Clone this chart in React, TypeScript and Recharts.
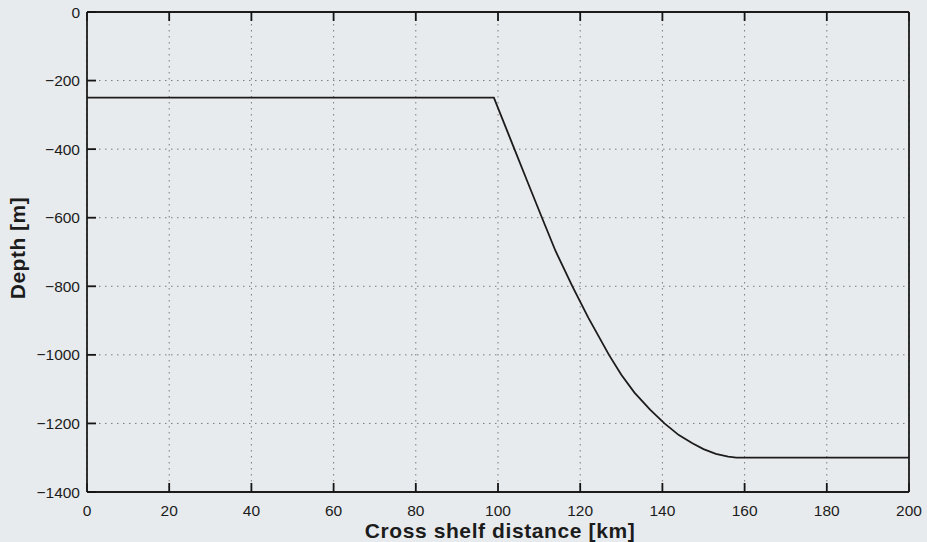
import React from "react";
import {
  LineChart,
  Line,
  XAxis,
  YAxis,
  CartesianGrid,
} from "recharts";

// Cross-shelf bathymetry profile
const distanceKm = [
  0, 99, 100.5, 104, 107, 110.7, 114, 118.1, 122, 127, 130, 133.2, 137, 140.5,
  144, 147.3, 150, 153, 156, 158, 160, 200,
];
const depthM = [
  -250, -250, -295, -400, -490, -600, -697, -800, -892, -1000, -1058, -1110,
  -1160, -1200, -1234, -1258, -1275, -1289, -1297, -1300, -1300, -1300,
];

const xTicks = [0, 20, 40, 60, 80, 100, 120, 140, 160, 180, 200];
const yTicks = [-1400, -1200, -1000, -800, -600, -400, -200, 0];

const data = distanceKm.map((d, i) => ({ dist: d, depth: depthM[i] }));

const FONT = '"Liberation Sans", Arial, Helvetica, sans-serif';
const INK = "#1c1c1c";

const fmt = (v: number) => (v < 0 ? `\u2212${Math.abs(v)}` : `${v}`);

// labels only; tick marks come from tickLine with a negative tickSize (inward, MATLAB style)
const LeftLabel = (props: any) => {
  const { x, y, payload } = props;
  return (
    <text x={x} y={y} textAnchor="end" dominantBaseline="central" fill={INK} fontSize={15.5} fontFamily={FONT}>
      {fmt(payload.value)}
    </text>
  );
};

const BottomLabel = (props: any) => {
  const { x, y, payload } = props;
  return (
    <text x={x} y={y + 7} textAnchor="middle" dominantBaseline="central" fill={INK} fontSize={15.5} fontFamily={FONT}>
      {fmt(payload.value)}
    </text>
  );
};

const NoLabel = () => <g />;

const tickLineStyle = { stroke: "#151515", strokeWidth: 1.8 };
const axisLineStyle = { stroke: INK, strokeWidth: 1.8 };

export default function App() {
  return (
    <div
      style={{
        position: "absolute",
        left: 0,
        top: 0,
        width: 927,
        height: 542,
        background: "#e8ebed",
      }}
    >
      <LineChart
        width={927}
        height={542}
        data={data}
        margin={{ top: 11, right: 17, bottom: 0, left: 0 }}
      >
        <CartesianGrid stroke="#7a7a7a" strokeWidth={1} strokeDasharray="1.5 4.5" />
        <XAxis
          xAxisId={0}
          dataKey="dist"
          type="number"
          domain={[0, 200]}
          ticks={xTicks}
          interval={0}
          height={50}
          tickSize={-9}
          tickMargin={20}
          tickLine={tickLineStyle}
          tick={<BottomLabel />}
          axisLine={axisLineStyle}
          label={{
            content: () => (
              <text x={500} y={530} textAnchor="middle" dominantBaseline="central" fill={INK} fontSize={21} letterSpacing={0.6} fontWeight="bold" fontFamily={FONT}>
                Cross shelf distance [km]
              </text>
            ),
          }}
        />
        <XAxis
          xAxisId={1}
          orientation="top"
          dataKey="dist"
          type="number"
          domain={[0, 200]}
          ticks={xTicks}
          interval={0}
          height={1}
          tickSize={-9}
          tickMargin={0}
          tickLine={tickLineStyle}
          tick={<NoLabel />}
          axisLine={axisLineStyle}
        />
        <YAxis
          yAxisId={0}
          type="number"
          domain={[-1400, 0]}
          ticks={yTicks}
          interval={0}
          width={87}
          tickSize={-9}
          tickMargin={16}
          tickLine={tickLineStyle}
          tick={<LeftLabel />}
          axisLine={axisLineStyle}
          label={{
            content: () => (
              <text x={17} y={248} transform="rotate(-90 17 248)" textAnchor="middle" dominantBaseline="central" fill={INK} fontSize={21} letterSpacing={0.5} fontWeight="bold" fontFamily={FONT}>
                Depth [m]
              </text>
            ),
          }}
        />
        <YAxis
          yAxisId={1}
          orientation="right"
          type="number"
          domain={[-1400, 0]}
          ticks={yTicks}
          interval={0}
          width={1}
          tickSize={-9}
          tickMargin={0}
          tickLine={tickLineStyle}
          tick={<NoLabel />}
          axisLine={axisLineStyle}
        />
        <Line
          xAxisId={0}
          yAxisId={0}
          type="linear"
          dataKey="depth"
          stroke={INK}
          strokeWidth={1.8}
          dot={false}
          isAnimationActive={false}
        />
      </LineChart>
    </div>
  );
}
